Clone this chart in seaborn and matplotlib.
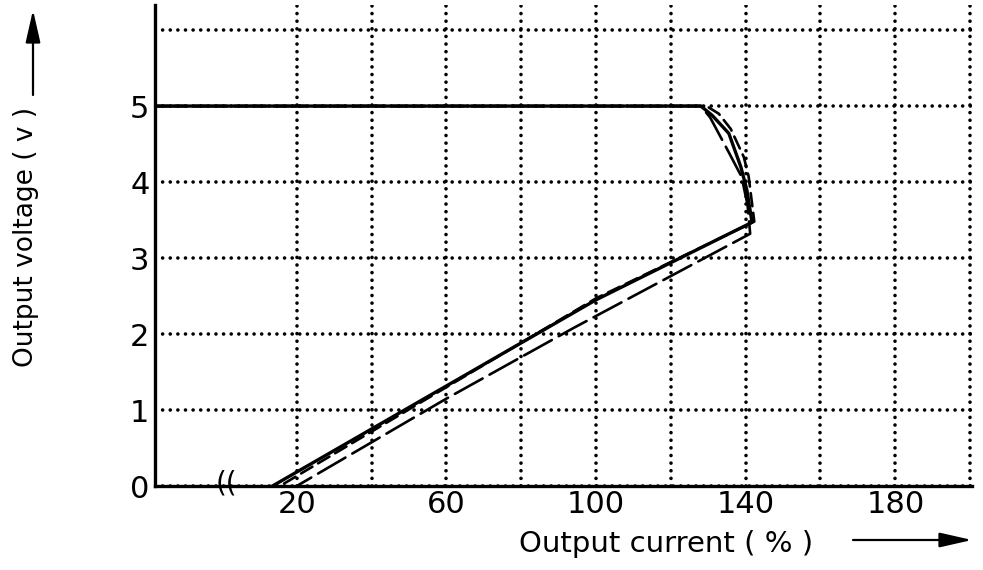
import matplotlib
matplotlib.use("Agg")
import matplotlib.pyplot as plt
import seaborn as sns
import pandas as pd

# Fold-back current limiting: output voltage against output current
axis_origin = -17.9          # current value at the (broken) vertical axis
grid_x_major = [20, 60, 100, 140, 180]
grid_x_minor = [40, 80, 120, 160, 200]
y_ticks = [0, 1, 2, 3, 4, 5]
grid_y_minor = [6]

solid_current = [axis_origin, 128, 131, 135.5, 138.7, 140.3, 141.7, 100, 13.5]
solid_voltage = [5, 5, 4.88, 4.64, 4.2, 3.9, 3.47, 2.45, 0]

long_dash_current = [axis_origin, 128, 130.5, 133, 135.5, 138.9, 140.5, 141.2, 94, 60, 20]
long_dash_voltage = [5, 5, 4.85, 4.62, 4.39, 4.07, 3.7, 3.32, 2.08, 1.15, 0]

short_dash_current = [axis_origin, 129.5, 132.8, 136, 139.5, 140.8, 142.3, 100, 15.5]
short_dash_voltage = [5, 5, 4.9, 4.7, 4.33, 4.07, 3.48, 2.47, 0]

sns.set_theme(style="white")
plt.rcParams["font.family"] = ["DejaVu Sans"]

W, H = 983, 570
fig = plt.figure(figsize=(W / 100, H / 100), dpi=100)
ax = fig.add_axes([155 / W, 1 - 486 / H, 817 / W, 481 / H])
ax.set_xlim(axis_origin, 200.5)
ax.set_ylim(0, 6.33)

curves = [
    (solid_current, solid_voltage, "-", 2.4),
    (long_dash_current, long_dash_voltage, (0, (12, 3)), 1.9),
    (short_dash_current, short_dash_voltage, (0, (5, 2.5)), 1.9),
]
for cur, volt, ls, lw in curves:
    df = pd.DataFrame({"current": cur, "voltage": volt})
    sns.lineplot(data=df, x="current", y="voltage", sort=False, estimator=None,
                 color="black", linewidth=lw, linestyle=ls, ax=ax,
                 solid_capstyle="round", dash_capstyle="round", zorder=3)

ax.set_xticks(grid_x_major)
ax.set_xticks(grid_x_minor, minor=True)
ax.set_yticks(y_ticks)
ax.set_yticks(grid_y_minor, minor=True)
ax.set_xticklabels([str(v) for v in grid_x_major])
ax.set_yticklabels([str(v) for v in y_ticks])
ax.grid(True, which="both", color="black", linewidth=2.6,
        linestyle=(0, (0.01, 2.1)), dash_capstyle="round")
ax.set_axisbelow(True)
ax.tick_params(which="both", length=0, labelsize=22, colors="black")
ax.tick_params(axis="x", pad=3)
ax.tick_params(axis="y", pad=4)

for side in ("top", "right"):
    ax.spines[side].set_visible(False)
for side in ("left", "bottom"):
    ax.spines[side].set_color("black")
    ax.spines[side].set_linewidth(2.4)
    ax.spines[side].set_zorder(4)

ax.set_xlabel("")
ax.set_ylabel("")

# axis break on the current axis
ax.text(1.3, 0.03, "((", ha="center", va="center", fontsize=20,
        color="black", clip_on=False, zorder=5)

fig.text(666 / W, 1 - 552 / H, "Output current ( % )", ha="center", va="baseline",
         fontsize=21, color="black")
fig.text(26 / W, 1 - 237 / H, "Output voltage ( v )", ha="center", va="center",
         rotation=90, fontsize=19, color="black")

arrow = dict(arrowstyle="-|>,head_length=1.1,head_width=0.25", color="black",
             lw=1.6, mutation_scale=18, shrinkA=0, shrinkB=0)
ax.annotate("", xy=(972, H - 540), xytext=(853, H - 540),
            xycoords="figure pixels", textcoords="figure pixels", arrowprops=arrow)
ax.annotate("", xy=(33, H - 10), xytext=(33, H - 95),
            xycoords="figure pixels", textcoords="figure pixels", arrowprops=arrow)

fig.savefig("out.png", dpi=100, facecolor="white")
